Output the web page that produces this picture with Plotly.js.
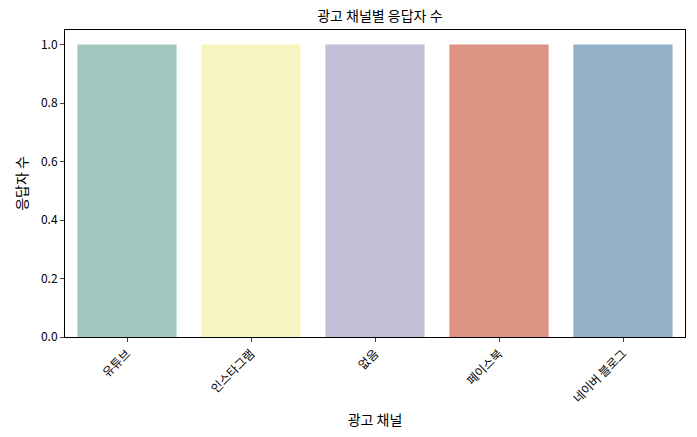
<!DOCTYPE html>
<html><head><meta charset="utf-8">
<script src="https://cdn.plot.ly/plotly-3.0.1.min.js"></script>
<style>body{margin:0}</style></head>
<body><div id="chart" style="width:697px;height:437px"></div>
<script>
const channels = ["유튜브", "인스타그램", "없음", "페이스북", "네이버 블로그"];
const counts = [1, 1, 1, 1, 1];
const colors = ["#a2c9c0", "#f6f5c0", "#c1bed5", "#de9485", "#93b0c8"];

const data = [{
    type: "bar",
    x: channels,
    y: counts,
    width: 0.8,
    marker: {color: colors}
}];

const layout = {
    width: 697,
    height: 437,
    margin: {l: 65, r: 12, t: 30, b: 100},
    font: {family: "Noto Sans CJK KR", size: 12, color: "#000"},
    title: {text: "광고 채널별 응답자 수", font: {size: 14}, x: 0.545, y: 0.975},
    showlegend: false,
    plot_bgcolor: "#fff",
    xaxis: {
        title: {text: "광고 채널", standoff: 10},
        tickangle: -45,
        showline: true, mirror: true, linecolor: "#000",
        ticks: "outside", ticklen: 4, range: [-0.5, 4.5]
    },
    yaxis: {
        title: {text: "응답자 수"},
        range: [0, 1.05],
        tickvals: [0, 0.2, 0.4, 0.6, 0.8, 1.0],
        ticktext: ["0.0", "0.2", "0.4", "0.6", "0.8", "1.0"],
        showgrid: false, zeroline: false,
        showline: true, mirror: true, linecolor: "#000",
        ticks: "outside", ticklen: 4
    }
};

Plotly.newPlot("chart", data, layout, {displayModeBar: false});
</script></body></html>
